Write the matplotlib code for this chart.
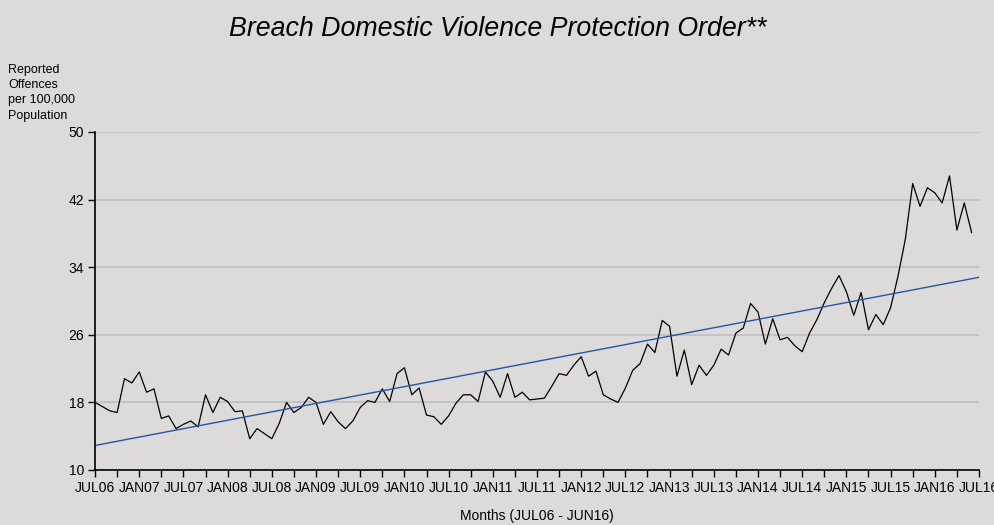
import numpy as np
import matplotlib
matplotlib.use("Agg")
import matplotlib.pyplot as plt

plt.rcParams['font.family'] = ['Liberation Sans', 'DejaVu Sans']

# Monthly rates, JUL06 .. JUN16
rate = [
    18.0, 17.5, 17.0, 16.8, 20.8, 20.3, 21.6, 19.2, 19.6, 16.1, 16.4, 14.9,
    15.4, 15.8, 15.1, 18.9, 16.8, 18.6, 18.1, 16.9, 17.0, 13.7, 14.9, 14.3,
    13.7, 15.5, 18.0, 16.8, 17.4, 18.6, 18.0, 15.4, 16.9, 15.7, 14.9, 15.8,
    17.4, 18.2, 18.0, 19.6, 18.1, 21.4, 22.1, 18.9, 19.7, 16.5, 16.3, 15.4,
    16.4, 17.9, 18.9, 18.9, 18.1, 21.6, 20.5, 18.6, 21.4, 18.6, 19.2, 18.3,
    18.4, 18.5, 19.9, 21.4, 21.2, 22.4, 23.4, 21.1, 21.7, 18.9, 18.4, 18.0,
    19.7, 21.8, 22.6, 24.9, 23.9, 27.7, 27.0, 21.1, 24.2, 20.1, 22.4, 21.2,
    22.4, 24.3, 23.6, 26.2, 26.8, 29.7, 28.7, 24.9, 27.9, 25.4, 25.7, 24.7,
    24.0, 26.2, 27.8, 29.8, 31.5, 33.0, 31.1, 28.3, 31.0, 26.6, 28.4, 27.2,
    29.2, 32.9, 37.3, 43.9, 41.2, 43.4, 42.8, 41.6, 44.8, 38.4, 41.6, 38.1,
]
# trend line end values (JUL06 and JUL16) as drawn on the chart
trend_x = [0, 120]
trend_y = [12.9, 32.8]

years = ['06', '07', '08', '09', '10', '11', '12', '13', '14', '15', '16']
tick_labels = []
for k, yy in enumerate(years):
    tick_labels.append('JUL' + yy)
    if k + 1 < len(years):
        tick_labels.append('JAN' + years[k + 1])
y_ticks = [10, 18, 26, 34, 42, 50]

months = np.arange(len(rate))

bg = '#dcdbda'
fig = plt.figure(figsize=(9.95, 5.25), dpi=100, facecolor=bg)
ax = fig.add_axes([0.0955, 0.1048, 0.8884, 0.6438], facecolor=bg)

ax.grid(axis='y', color='#bfbfbf', linewidth=1.2)
ax.set_axisbelow(True)
ax.plot(months, rate, color='black', linewidth=0.9)
ax.plot(trend_x, trend_y, color='#2356a6', linewidth=1.0)

ax.set_xlim(0, 120)
ax.set_ylim(10, 50)
ax.set_yticks(y_ticks)
ax.set_xticks(np.arange(0, 121, 6))
ax.set_xticklabels(tick_labels)
ax.set_xticks(np.arange(0, 121, 3), minor=True)
ax.tick_params(axis='both', which='both', length=5, width=1, color='black',
               labelsize=10, pad=3)
for s in ['top', 'right']:
    ax.spines[s].set_visible(False)
for s in ['left', 'bottom']:
    ax.spines[s].set_linewidth(1.2)

ax.set_xlabel('Months (JUL06 - JUN16)', fontsize=10, labelpad=10)
fig.text(0.008, 0.878, 'Reported\nOffences\nper 100,000\nPopulation',
         fontsize=9, va='top', ha='left', linespacing=1.35)
fig.text(0.5, 0.945, 'Breach Domestic Violence Protection Order**',
         fontsize=19.3, style='italic', ha='center', va='center')

fig.savefig('out.png', dpi=100, facecolor=bg)
